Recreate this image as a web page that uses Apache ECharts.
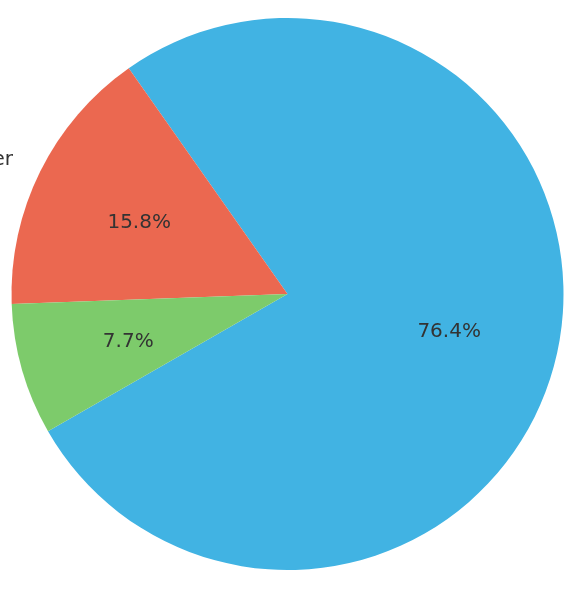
<!DOCTYPE html>
<html>
<head>
<meta charset="utf-8">
<script src="https://cdn.jsdelivr.net/npm/echarts@6/dist/echarts.min.js"></script>
<style>
  html, body { margin: 0; padding: 0; background: #fff; }
  #chart { width: 570px; height: 610px; }
</style>
</head>
<body>
<div id="chart"></div>
<script>
// slice data, counterclockwise from the start angle
var names = ['Group A', 'Other', 'Group B'];
var values = [76.4, 15.8, 7.7];
var colors = ['#41b3e3', '#eb6850', '#7dcb6b'];
var outerLabelShown = [false, true, false];

var cx = 287.5, cy = 294, R = 276;
var startAngle = 209.8;

var chart = echarts.init(document.getElementById('chart'));

var pieData = names.map(function (n, i) {
  return { name: n, value: values[i], itemStyle: { color: colors[i] } };
});
var pctData = names.map(function (n, i) {
  return { name: n, value: values[i] };
});
var nameData = names.map(function (n, i) {
  return { name: n, value: values[i], label: { show: outerLabelShown[i] } };
});

var font = { fontFamily: 'DejaVu Sans', fontSize: 20, color: '#333' };

chart.setOption({
  backgroundColor: '#ffffff',
  animation: false,
  series: [
    {
      type: 'pie',
      center: [cx, cy],
      radius: [0, R],
      startAngle: startAngle,
      clockwise: false,
      silent: true,
      label: { show: false },
      labelLine: { show: false },
      itemStyle: { borderWidth: 0 },
      data: pieData
    },
    {
      // percent labels at about 0.6 of the radius
      type: 'pie',
      center: [cx, cy],
      radius: [0.2 * R - 3, R - 3],
      startAngle: startAngle,
      clockwise: false,
      silent: true,
      itemStyle: { color: 'rgba(0,0,0,0)', borderWidth: 0 },
      label: Object.assign({
        show: true,
        position: 'inside',
        offset: [0, 2],
        formatter: function (p) { return p.value.toFixed(1) + '%'; }
      }, font),
      labelLine: { show: false },
      data: pctData
    },
    {
      // category labels at 1.1 of the radius, right aligned on the left side
      type: 'pie',
      center: [cx, cy],
      radius: [1.1 * R - 0.5, 1.1 * R + 0.5],
      startAngle: startAngle,
      clockwise: false,
      silent: true,
      itemStyle: { color: 'rgba(0,0,0,0)', borderWidth: 0 },
      label: {
        show: false,
        position: 'inside',
        formatter: '{n|{b}}',
        offset: [-80, 2],
        rich: { n: Object.assign({ width: 160, align: 'right' }, font) }
      },
      labelLine: { show: false },
      data: nameData
    }
  ]
});
</script>
</body>
</html>
